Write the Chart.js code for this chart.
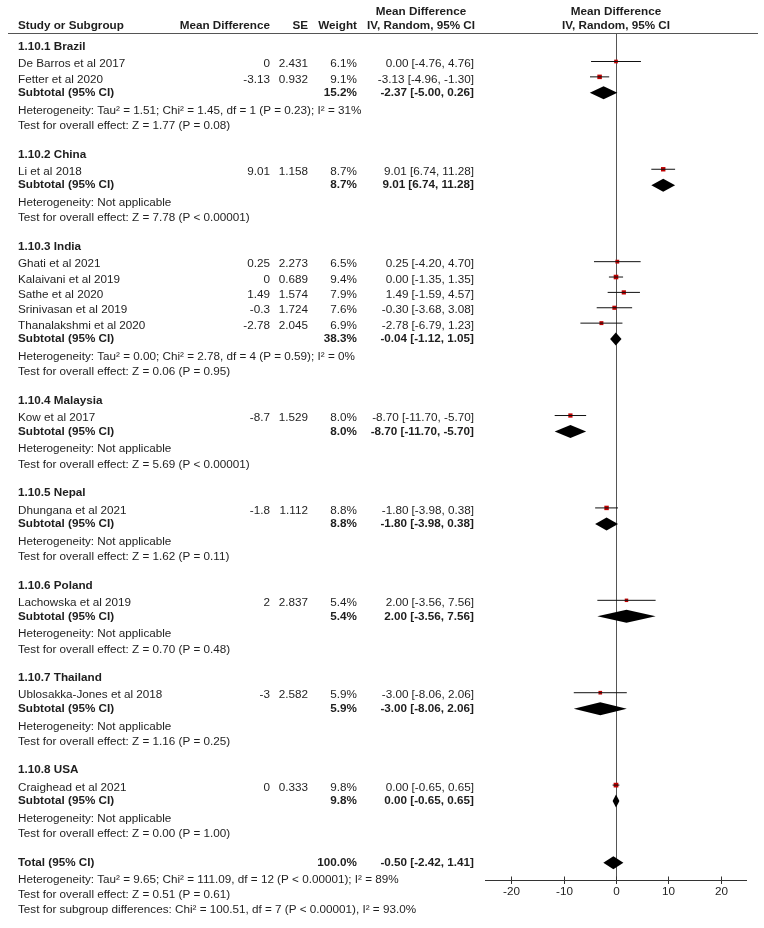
<!DOCTYPE html>
<html>
<head>
<meta charset="utf-8">
<script src="https://cdn.jsdelivr.net/npm/chart.js@4.4.1/dist/chart.umd.min.js"></script>
<style>
  html, body { margin: 0; padding: 0; background: #fff; }
  canvas { display: block; }
</style>
</head>
<body>
<canvas id="forest" width="764" height="928"></canvas>
<script>
// subgroups
const groupNames = ['1.10.1 Brazil', '1.10.2 China', '1.10.3 India', '1.10.4 Malaysia',
    '1.10.5 Nepal', '1.10.6 Poland', '1.10.7 Thailand', '1.10.8 USA'];

// studies
const studyNames = ['De Barros et al 2017', 'Fetter et al 2020', 'Li et al 2018', 'Ghati et al 2021',
    'Kalaivani et al 2019', 'Sathe et al 2020', 'Srinivasan et al 2019', 'Thanalakshmi et al 2020',
    'Kow et al 2017', 'Dhungana et al 2021', 'Lachowska et al 2019', 'Ublosakka-Jones et al 2018',
    'Craighead et al 2021'];
const studyGroup = [0, 0, 1, 2, 2, 2, 2, 2, 3, 4, 5, 6, 7];
const meanDiff = [0, -3.13, 9.01, 0.25, 0, 1.49, -0.3, -2.78, -8.7, -1.8, 2, -3, 0];
const seValues = ['2.431', '0.932', '1.158', '2.273', '0.689', '1.574', '1.724', '2.045', '1.529', '1.112', '2.837', '2.582', '0.333'];
const weights = [6.1, 9.1, 8.7, 6.5, 9.4, 7.9, 7.6, 6.9, 8.0, 8.8, 5.4, 5.9, 9.8];
const ciLow = [-4.76, -4.96, 6.74, -4.20, -1.35, -1.59, -3.68, -6.79, -11.70, -3.98, -3.56, -8.06, -0.65];
const ciHigh = [4.76, -1.30, 11.28, 4.70, 1.35, 4.57, 3.08, 1.23, -5.70, 0.38, 7.56, 2.06, 0.65];

// subtotals
const subWeights = [15.2, 8.7, 38.3, 8.0, 8.8, 5.4, 5.9, 9.8];
const subMean = [-2.37, 9.01, -0.04, -8.70, -1.80, 2.00, -3.00, 0.00];
const subLow = [-5.00, 6.74, -1.12, -11.70, -3.98, -3.56, -8.06, -0.65];
const subHigh = [0.26, 11.28, 1.05, -5.70, 0.38, 7.56, 2.06, 0.65];
const subHeterogeneity = [
    'Heterogeneity: Tau² = 1.51; Chi² = 1.45, df = 1 (P = 0.23); I² = 31%',
    'Heterogeneity: Not applicable',
    'Heterogeneity: Tau² = 0.00; Chi² = 2.78, df = 4 (P = 0.59); I² = 0%',
    'Heterogeneity: Not applicable',
    'Heterogeneity: Not applicable',
    'Heterogeneity: Not applicable',
    'Heterogeneity: Not applicable',
    'Heterogeneity: Not applicable',
];
const subOverall = [
    'Test for overall effect: Z = 1.77 (P = 0.08)',
    'Test for overall effect: Z = 7.78 (P < 0.00001)',
    'Test for overall effect: Z = 0.06 (P = 0.95)',
    'Test for overall effect: Z = 5.69 (P < 0.00001)',
    'Test for overall effect: Z = 1.62 (P = 0.11)',
    'Test for overall effect: Z = 0.70 (P = 0.48)',
    'Test for overall effect: Z = 1.16 (P = 0.25)',
    'Test for overall effect: Z = 0.00 (P = 1.00)',
];

// overall
const totalWeight = 100.0;
const totalMean = -0.50;
const totalLow = -2.42;
const totalHigh = 1.41;
const totalNotes = [
    'Heterogeneity: Tau² = 9.65; Chi² = 111.09, df = 12 (P < 0.00001); I² = 89%',
    'Test for overall effect: Z = 0.51 (P = 0.61)',
    'Test for subgroup differences: Chi² = 100.51, df = 7 (P < 0.00001), I² = 93.0%',
];

const xTicks = [-20, -10, 0, 10, 20];

// ---- row layout (y in page pixels) ----
const rows = [];
let cursor = 43;
groupNames.forEach((name, g) => {
    if (g > 0) cursor += 28.8;
    rows.push({ y: cursor, type: 'group', g });
    let first = true;
    studyGroup.forEach((sg, i) => {
        if (sg !== g) return;
        cursor += first ? 17.5 : 15.5;
        first = false;
        rows.push({ y: cursor, type: 'study', i });
    });
    cursor += 13.6;
    rows.push({ y: cursor, type: 'subtotal', g });
    cursor += 17.8;
    rows.push({ y: cursor, type: 'note', text: subHeterogeneity[g] });
    cursor += 15.5;
    rows.push({ y: cursor, type: 'note', text: subOverall[g] });
});
cursor += 28.8;
rows.push({ y: cursor, type: 'total' });
cursor += 17.5;
rows.push({ y: cursor, type: 'note', text: totalNotes[0] });
cursor += 15.3;
rows.push({ y: cursor, type: 'note', text: totalNotes[1] });
cursor += 15;
rows.push({ y: cursor, type: 'note', text: totalNotes[2] });

const studyRows = rows.filter((r) => r.type === 'study');
const diamondRows = rows.filter((r) => r.type === 'subtotal' || r.type === 'total');

const markLift = 2.5;
const whiskerData = [];
studyRows.forEach((r) => {
    whiskerData.push({ x: ciLow[r.i], y: r.y - markLift });
    whiskerData.push({ x: ciHigh[r.i], y: r.y - markLift });
    whiskerData.push({ x: null, y: null });
});
const squareData = studyRows.map((r) => ({ x: meanDiff[r.i], y: r.y - markLift }));
const squareRadius = studyRows.map((r) => 1.5 * Math.sqrt(weights[r.i]) / Math.SQRT2);

const FONT = '"Liberation Sans", Arial, sans-serif';
const SIZE = '11.7px';
const TEXT = '#1e1e1e';
const fmt = (v) => v.toFixed(2);
const ciText = (m, lo, hi) => `${fmt(m)} [${fmt(lo)}, ${fmt(hi)}]`;

const col = { study: 18, md: 270, se: 308, weight: 357, ci: 474, ciHead: 421 };
const headerRuleY = 33.5;
const axisY = 880.5;

const framePlugin = {
    id: 'frame',
    beforeDatasetsDraw(chart) {
        const { ctx } = chart;
        const x = chart.scales.x;
        ctx.save();
        ctx.strokeStyle = '#555';
        ctx.lineWidth = 1;
        // header rule
        ctx.beginPath();
        ctx.moveTo(8, headerRuleY);
        ctx.lineTo(758, headerRuleY);
        ctx.stroke();
        // line of no effect
        const x0 = Math.round(x.getPixelForValue(0)) + 0.5;
        ctx.beginPath();
        ctx.moveTo(x0, headerRuleY);
        ctx.lineTo(x0, axisY);
        ctx.stroke();
        // axis
        ctx.strokeStyle = '#333';
        ctx.beginPath();
        ctx.moveTo(x.left, axisY);
        ctx.lineTo(x.right, axisY);
        ctx.stroke();
        ctx.fillStyle = TEXT;
        ctx.font = `${SIZE} ${FONT}`;
        ctx.textAlign = 'center';
        ctx.textBaseline = 'middle';
        xTicks.forEach((t) => {
            const px = Math.round(x.getPixelForValue(t)) + 0.5;
            ctx.beginPath();
            ctx.moveTo(px, axisY - 4);
            ctx.lineTo(px, axisY + 3.5);
            ctx.stroke();
            ctx.fillText(String(t), px, axisY + 11.5);
        });
        ctx.restore();
    },
    afterDatasetsDraw(chart) {
        const { ctx } = chart;
        const x = chart.scales.x;
        const y = chart.scales.y;
        ctx.save();
        ctx.fillStyle = '#000';
        diamondRows.forEach((r) => {
            const g = r.g;
            const lo = r.type === 'total' ? totalLow : subLow[g];
            const hi = r.type === 'total' ? totalHigh : subHigh[g];
            const m = r.type === 'total' ? totalMean : subMean[g];
            const py = y.getPixelForValue(r.y);
            ctx.beginPath();
            ctx.moveTo(x.getPixelForValue(lo), py);
            ctx.lineTo(x.getPixelForValue(m), py - 6.5);
            ctx.lineTo(x.getPixelForValue(hi), py);
            ctx.lineTo(x.getPixelForValue(m), py + 6.5);
            ctx.closePath();
            ctx.fill();
        });
        ctx.restore();
    },
    afterDraw(chart) {
        const { ctx } = chart;
        const x = chart.scales.x;
        const y = chart.scales.y;
        const bold = `bold ${SIZE} ${FONT}`;
        const normal = `${SIZE} ${FONT}`;
        const put = (text, px, py, align, font) => {
            ctx.font = font;
            ctx.textAlign = align;
            ctx.fillText(text, px, py);
        };
        ctx.save();
        ctx.fillStyle = TEXT;
        ctx.textBaseline = 'middle';
        // header
        put('Study or Subgroup', col.study, 26, 'left', bold);
        put('Mean Difference', col.md, 26, 'right', bold);
        put('SE', col.se, 26, 'right', bold);
        put('Weight', col.weight, 26, 'right', bold);
        put('Mean Difference', col.ciHead, 12, 'center', bold);
        put('IV, Random, 95% CI', col.ciHead, 26, 'center', bold);
        const xc = x.getPixelForValue(0);
        put('Mean Difference', xc, 12, 'center', bold);
        put('IV, Random, 95% CI', xc, 26, 'center', bold);

        rows.forEach((r) => {
            const py = y.getPixelForValue(r.y);
            if (r.type === 'group') {
                put(groupNames[r.g], col.study, py, 'left', bold);
            } else if (r.type === 'study') {
                const i = r.i;
                put(studyNames[i], col.study, py, 'left', normal);
                put(String(meanDiff[i]), col.md, py, 'right', normal);
                put(seValues[i], col.se, py, 'right', normal);
                put(weights[i].toFixed(1) + '%', col.weight, py, 'right', normal);
                put(ciText(meanDiff[i], ciLow[i], ciHigh[i]), col.ci, py, 'right', normal);
            } else if (r.type === 'subtotal') {
                const g = r.g;
                put('Subtotal (95% CI)', col.study, py, 'left', bold);
                put(subWeights[g].toFixed(1) + '%', col.weight, py, 'right', bold);
                put(ciText(subMean[g], subLow[g], subHigh[g]), col.ci, py, 'right', bold);
            } else if (r.type === 'total') {
                put('Total (95% CI)', col.study, py, 'left', bold);
                put(totalWeight.toFixed(1) + '%', col.weight, py, 'right', bold);
                put(ciText(totalMean, totalLow, totalHigh), col.ci, py, 'right', bold);
            } else {
                put(r.text, col.study, py, 'left', normal);
            }
        });
        ctx.restore();
    },
};

new Chart(document.getElementById('forest'), {
    type: 'scatter',
    data: {
        datasets: [
            {
                label: 'CI',
                data: whiskerData,
                showLine: true,
                spanGaps: false,
                borderColor: '#111',
                borderWidth: 1,
                pointRadius: 0,
            },
            {
                label: 'Estimate',
                data: squareData,
                pointStyle: 'rect',
                pointRadius: squareRadius,
                backgroundColor: '#c00000',
                borderWidth: 0,
            },
        ],
    },
    options: {
        responsive: false,
        animation: false,
        events: [],
        layout: { padding: { left: 485, right: 17, top: 0, bottom: 0 } },
        plugins: { legend: { display: false }, tooltip: { enabled: false } },
        scales: {
            x: { type: 'linear', min: -25, max: 25, display: false },
            y: { type: 'linear', min: 0, max: 928, reverse: true, display: false },
        },
    },
    plugins: [framePlugin],
});
</script>
</body>
</html>
